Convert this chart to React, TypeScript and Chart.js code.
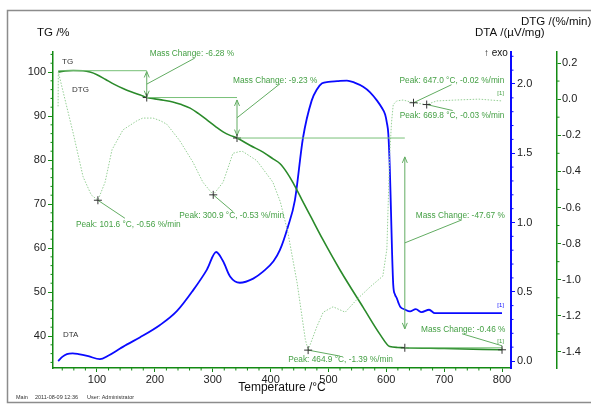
import React, { useEffect, useRef } from "react";
import { Chart, registerables } from "chart.js";

Chart.register(...registerables);

// ---------- data ----------
const tgTemp = [33, 45, 59, 76, 88, 100, 115, 130, 145, 160, 175, 186, 200, 215, 231, 246, 261, 275, 290, 305, 318, 330, 342, 365, 387, 405, 416, 428, 439, 454, 470, 490, 520, 560, 590, 606, 620, 632, 700, 800];
const tgValue = [100.0, 100.25, 100.35, 100.3, 100.0, 99.4, 98.3, 97.2, 96.25, 95.45, 94.75, 94.2, 93.9, 93.6, 93.2, 92.6, 91.8, 90.6, 89.1, 87.6, 86.4, 85.6, 85.0, 83.3, 81.8, 80.2, 79.2, 77.2, 74.8, 71.0, 67.0, 62.0, 55.0, 46.5, 40.2, 37.6, 37.4, 37.33, 37.15, 36.87];

const dtaTemp = [33, 40, 48, 58, 68, 85, 105, 120, 140, 152, 174, 209, 238, 266, 290, 306, 318, 330, 347, 370, 387, 405, 416, 430, 442, 456, 471, 480, 489, 500, 515, 532, 545, 560, 572, 584, 592, 598, 601, 603.5, 606, 608, 610, 612, 615, 618, 621, 624, 632, 641, 651, 661, 674, 684, 700, 800];
const dtaValue = [0.0, 0.03, 0.05, 0.055, 0.05, 0.035, 0.013, 0.04, 0.09, 0.12, 0.17, 0.26, 0.36, 0.51, 0.66, 0.787, 0.72, 0.61, 0.565, 0.595, 0.645, 0.72, 0.8, 0.97, 1.16, 1.61, 1.88, 1.96, 2.005, 2.015, 2.02, 2.025, 2.01, 1.98, 1.94, 1.88, 1.83, 1.78, 1.72, 1.64, 1.4, 1.1, 0.78, 0.55, 0.48, 0.455, 0.42, 0.392, 0.372, 0.358, 0.374, 0.353, 0.37, 0.345, 0.345, 0.345];

const dtgTemp = [32.8, 33.2, 59, 76, 90, 101.6, 114, 126, 145, 169, 179, 197, 210, 221, 243, 266, 283, 300.9, 318, 335, 347, 352, 376, 404, 417, 430, 446, 460, 464.9, 480, 491, 508, 529, 549, 572, 594, 601, 604, 606, 609, 612, 618, 629, 647, 669.8, 687, 720, 760, 780, 800];
const dtgValue = [-0.04, 0.15, -0.19, -0.43, -0.53, -0.56, -0.46, -0.28, -0.17, -0.12, -0.105, -0.105, -0.12, -0.14, -0.23, -0.35, -0.46, -0.53, -0.46, -0.3, -0.29, -0.29, -0.34, -0.46, -0.57, -0.74, -1.02, -1.33, -1.39, -1.26, -1.18, -1.15, -1.18, -1.11, -1.04, -0.98, -0.83, -0.5, -0.3, -0.13, -0.03, -0.01, -0.005, -0.02, -0.03, -0.01, -0.005, 0.0, -0.005, -0.01];

const tempTicks = [100, 200, 300, 400, 500, 600, 700, 800];
const tgTicks = [40, 50, 60, 70, 80, 90, 100];
const dtaTicks = [0, 0.5, 1.0, 1.5, 2.0];
const dtgTicks = [-1.4, -1.2, -1.0, -0.8, -0.6, -0.4, -0.2, 0.0, 0.2];

const peakTemps = [101.6, 300.9, 464.9, 647.0, 669.8];
const peakDtg = [-0.56, -0.53, -1.39, -0.02, -0.03];

const stepTemps = [33, 186, 342, 632, 800];
const stepLevels = [100.3, 94.2, 85.0, 37.33, 36.87];
const massChanges = [-6.28, -9.23, -47.67, -0.46];

// ---------- styles / layout ----------
const FONT = "'Liberation Sans', Arial, sans-serif";
const axisGreen = "#138a13";
const dtaBlue = "#0a0aff";
const annGreen = "#45a045";
const lineGreen = "#78c078";
const leaderGreen = "#62ac62";

const peakLayout = [
  { lx: 27, ly: 18, tx: -22, ty: 24 },
  { lx: 20, ly: 17, tx: -34, ty: 21 },
  { lx: 32, ly: 6, tx: -20, ty: 10 },
  { lx: 38, ly: -18, tx: -14, ty: -22 },
  { lx: 26, ly: 6, tx: -27, ty: 11 },
];
const stepLayout = [
  { sy: 0, ex: 48, ey: -26, tx: 3, ty: -30, inset: 0.03 },
  { sy: 0, ex: 43, ey: -34, tx: -4, ty: -37, inset: 0.06 },
  { sy: 0, ex: 57, ey: -23, tx: 11, ty: -27, inset: 0.09 },
  { sy: -3, ex: -40, ey: -15, tx: -81, ty: -19, inset: 0 },
];

function cross(ctx: CanvasRenderingContext2D, x: number, y: number) {
  ctx.save();
  ctx.strokeStyle = "#333";
  ctx.lineWidth = 1;
  ctx.beginPath();
  ctx.moveTo(x - 4, y);
  ctx.lineTo(x + 4, y);
  ctx.moveTo(x, y - 4);
  ctx.lineTo(x, y + 4);
  ctx.stroke();
  ctx.restore();
}

function line(ctx: CanvasRenderingContext2D, x1: number, y1: number, x2: number, y2: number, color: string, w = 1) {
  ctx.save();
  ctx.strokeStyle = color;
  ctx.lineWidth = w;
  ctx.beginPath();
  ctx.moveTo(x1, y1);
  ctx.lineTo(x2, y2);
  ctx.stroke();
  ctx.restore();
}

function text(ctx: CanvasRenderingContext2D, s: string, x: number, y: number, size: number, color: string, align: CanvasTextAlign = "left") {
  ctx.save();
  ctx.font = `${size}px ${FONT}`;
  ctx.fillStyle = color;
  ctx.textAlign = align;
  ctx.textBaseline = "middle";
  ctx.fillText(s, x, y);
  ctx.restore();
}

function dArrow(ctx: CanvasRenderingContext2D, x: number, ya: number, yb: number, inset: number) {
  const top = Math.min(ya, yb);
  const bot = Math.max(ya, yb);
  const len = bot - top;
  const t = top + len * inset;
  const b = bot - len * inset;
  line(ctx, x, t, x, b, leaderGreen);
  if (len < 10) return;
  ctx.save();
  ctx.strokeStyle = leaderGreen;
  ctx.lineWidth = 1;
  ctx.beginPath();
  ctx.moveTo(x - 2.5, t + 6);
  ctx.lineTo(x, t);
  ctx.lineTo(x + 2.5, t + 6);
  ctx.moveTo(x - 2.5, b - 6);
  ctx.lineTo(x, b);
  ctx.lineTo(x + 2.5, b - 6);
  ctx.stroke();
  ctx.restore();
}

const annotPlugin = {
  id: "annot",
  afterDatasetsDraw(chart: any) {
    const ctx: CanvasRenderingContext2D = chart.ctx;
    const sx = chart.scales.x;
    const sTG = chart.scales.yTG;
    const sDTG = chart.scales.yDTG;
    const sDTA = chart.scales.yDTA;

    // mass change steps
    for (let i = 0; i < massChanges.length; i++) {
      const x0 = sx.getPixelForValue(stepTemps[i]);
      const x1 = sx.getPixelForValue(stepTemps[i + 1]);
      const y0 = sTG.getPixelForValue(stepLevels[i]);
      const y1 = sTG.getPixelForValue(stepLevels[i + 1]);
      const L = stepLayout[i];
      line(ctx, x0, y0, x1, y0, lineGreen);
      dArrow(ctx, x1, y0, y1, L.inset);
      const mid = (y0 + y1) / 2;
      line(ctx, x1, mid + L.sy, x1 + L.ex, mid + L.ey, leaderGreen);
      text(ctx, `Mass Change: ${massChanges[i].toFixed(2)} %`, x1 + L.tx, mid + L.ty, 8.3, annGreen);
      cross(ctx, x1, y1);
    }

    // DTG peaks
    for (let i = 0; i < peakTemps.length; i++) {
      const x = sx.getPixelForValue(peakTemps[i]);
      const y = sDTG.getPixelForValue(peakDtg[i]);
      const L = peakLayout[i];
      line(ctx, x, y, x + L.lx, y + L.ly, leaderGreen);
      cross(ctx, x, y);
      text(ctx, `Peak: ${peakTemps[i].toFixed(1)} °C, ${peakDtg[i].toFixed(2)} %/min`, x + L.tx, y + L.ty, 8.3, annGreen);
    }

    // curve labels
    const xl = chart.chartArea.left;
    text(ctx, "TG", xl + 9, sTG.getPixelForValue(102.3), 8, "#333");
    text(ctx, "DTG", xl + 19, sTG.getPixelForValue(96), 8, "#333");
    text(ctx, "DTA", xl + 10, sTG.getPixelForValue(40.2), 8, "#333");

    // [1] tags at end of curves
    const xe = sx.getPixelForValue(800) + 2;
    text(ctx, "[1]", xe, sDTA.getPixelForValue(dtaValue[dtaValue.length - 1]) - 8, 6, dtaBlue, "right");
    text(ctx, "[1]", xe, sTG.getPixelForValue(tgValue[tgValue.length - 1]) - 8, 6, annGreen, "right");
    text(ctx, "[1]", xe, sDTG.getPixelForValue(dtgValue[dtgValue.length - 1]) - 8, 6, annGreen, "right");
  },
  afterDraw(chart: any) {
    const ctx: CanvasRenderingContext2D = chart.ctx;
    const ca = chart.chartArea;
    const sx = chart.scales.x;
    const sTG = chart.scales.yTG;
    const sDTA = chart.scales.yDTA;
    const sDTG = chart.scales.yDTG;

    // frame
    ctx.save();
    ctx.strokeStyle = "#8c8c8c";
    ctx.lineWidth = 1.5;
    ctx.beginPath();
    ctx.moveTo(600, 10.5);
    ctx.lineTo(7.5, 10.5);
    ctx.lineTo(7.5, 402.5);
    ctx.lineTo(600, 402.5);
    ctx.stroke();
    ctx.restore();

    // minor ticks
    for (let v = 40; v <= 800; v += 20) {
      if (v % 100 === 0) continue;
      const x = sx.getPixelForValue(v);
      line(ctx, x, ca.bottom, x, ca.bottom + 2.5, axisGreen);
    }
    for (let v = 34; v <= 104; v += 2) {
      if (v % 10 === 0) continue;
      const y = sTG.getPixelForValue(v);
      line(ctx, ca.left - 2.5, y, ca.left, y, axisGreen);
    }
    for (let k = 0; k <= 22; k++) {
      if (k % 5 === 0) continue;
      const y = sDTA.getPixelForValue(k / 10);
      line(ctx, sDTA.left, y, sDTA.left + 2.5, y, dtaBlue);
    }
    for (let k = -14; k <= 2; k++) {
      if (k % 2 === 0) continue;
      const y = sDTG.getPixelForValue(k / 10);
      line(ctx, sDTG.left, y, sDTG.left + 2.5, y, axisGreen);
    }

    // axis titles
    text(ctx, "TG /%", 37, 33, 11.5, "#111");
    text(ctx, "DTA /(µV/mg)", 475, 33, 11.5, "#111");
    text(ctx, "DTG /(%/min)", 521, 22, 11.5, "#111");
    text(ctx, "↑ exo", 484, 53, 10, "#111");
    text(ctx, "Temperature /°C", 282, 388, 12, "#111", "center");

    // footer
    text(ctx, "Main", 16, 397, 5.5, "#333");
    text(ctx, "2011-08-09 12:36", 35, 397, 5.5, "#333");
    text(ctx, "User: Administrator", 87, 397, 5.5, "#333");
  },
};

const tickFont = { family: FONT, size: 11 };

export default function App() {
  const ref = useRef<HTMLCanvasElement | null>(null);
  useEffect(() => {
    document.body.style.margin = "0";
    const canvas = ref.current!;
    const chart = new Chart(canvas, {
      type: "line",
      data: {
        datasets: [
          {
            label: "DTG",
            data: dtgTemp.map((t, i) => ({ x: t, y: dtgValue[i] })),
            yAxisID: "yDTG",
            borderColor: "#96cf96",
            borderWidth: 1,
            borderDash: [1.5, 1.5],
            pointRadius: 0,
            tension: 0,
          },
          {
            label: "TG",
            data: tgTemp.map((t, i) => ({ x: t, y: tgValue[i] })),
            yAxisID: "yTG",
            borderColor: "#2a8a2a",
            borderWidth: 1.6,
            pointRadius: 0,
            cubicInterpolationMode: "monotone",
          },
          {
            label: "DTA",
            data: dtaTemp.map((t, i) => ({ x: t, y: dtaValue[i] })),
            yAxisID: "yDTA",
            borderColor: dtaBlue,
            borderWidth: 1.8,
            pointRadius: 0,
            cubicInterpolationMode: "monotone",
          },
        ],
      },
      options: {
        animation: false,
        responsive: false,
        devicePixelRatio: 1,
        events: [],
        layout: { padding: { top: 52, left: 0, right: 0, bottom: 0 } },
        plugins: { legend: { display: false }, tooltip: { enabled: false } },
        scales: {
          x: {
            type: "linear",
            position: "bottom",
            min: 24,
            max: 815.5,
            afterFit: (s: any) => { s.height = 37; },
            afterBuildTicks: (s: any) => { s.ticks = tempTicks.map((v) => ({ value: v })); },
            grid: { drawOnChartArea: false, tickLength: 4, tickColor: axisGreen },
            border: { color: axisGreen, width: 1.5 },
            ticks: { font: tickFont, color: "#222", padding: 1, maxRotation: 0, autoSkip: false, callback: (v: any) => String(v) },
          },
          yTG: {
            type: "linear",
            position: "left",
            min: 32.73,
            max: 104.55,
            afterFit: (s: any) => { s.width = 53; },
            afterBuildTicks: (s: any) => { s.ticks = tgTicks.map((v) => ({ value: v })); },
            grid: { drawOnChartArea: false, tickLength: 5, tickColor: axisGreen },
            border: { color: axisGreen, width: 1.5 },
            ticks: { font: tickFont, color: "#222", padding: 2, autoSkip: false, callback: (v: any) => String(v) },
          },
          yDTA: {
            type: "linear",
            position: "right",
            min: -0.0505,
            max: 2.231,
            afterFit: (s: any) => { s.width = 46; },
            afterBuildTicks: (s: any) => { s.ticks = dtaTicks.map((v) => ({ value: v })); },
            grid: { drawOnChartArea: false, tickLength: 4, tickColor: dtaBlue },
            border: { color: dtaBlue, width: 2 },
            ticks: { font: tickFont, color: "#222", padding: 2, autoSkip: false, callback: (v: any) => Number(v).toFixed(1) },
          },
          yDTG: {
            type: "linear",
            position: "right",
            min: -1.489,
            max: 0.261,
            afterFit: (s: any) => { s.width = 34; },
            afterBuildTicks: (s: any) => { s.ticks = dtgTicks.map((v) => ({ value: v })); },
            grid: { drawOnChartArea: false, tickLength: 4, tickColor: axisGreen },
            border: { color: axisGreen, width: 1.5 },
            ticks: { font: tickFont, color: "#222", padding: 1, autoSkip: false, callback: (v: any) => Number(v).toFixed(1) },
          },
        },
      } as any,
      plugins: [annotPlugin],
    });
    return () => chart.destroy();
  }, []);
  return (
    <div style={{ width: 591, height: 405 }}>
      <canvas ref={ref} width={591} height={405} style={{ width: 591, height: 405, display: "block" }} />
    </div>
  );
}
